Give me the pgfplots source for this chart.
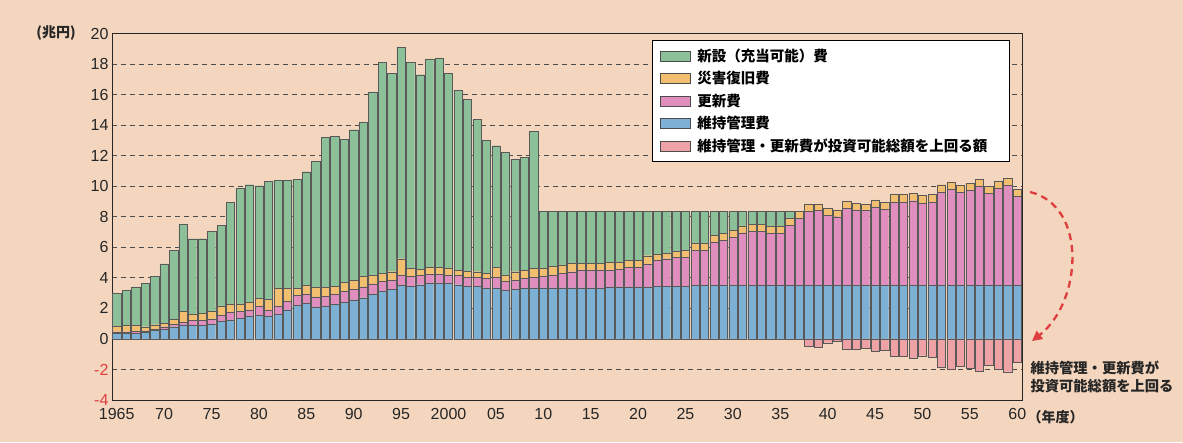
\documentclass[border=0pt]{standalone}
\usepackage{fontspec}
\setmainfont{Liberation Sans}
\newfontfamily\cjk{Noto Sans CJK JP}
\usepackage{pgfplots}
\pgfplotsset{compat=1.18}
\usepackage{pgfplotstable}
\usetikzlibrary{arrows.meta}

\definecolor{bg}{RGB}{244,214,190}
\definecolor{cgreen}{RGB}{140,192,152}
\definecolor{corange}{RGB}{242,190,112}
\definecolor{cpink}{RGB}{224,142,190}
\definecolor{cblue}{RGB}{124,177,213}
\definecolor{cneg}{RGB}{238,162,166}
\definecolor{cred}{RGB}{222,62,62}

\pgfplotstableread{
year B P O G N
1965 0.35 0.12 0.38 2.15 0
1966 0.35 0.12 0.43 2.30 0
1967 0.38 0.10 0.42 2.50 0
1968 0.42 0.10 0.28 2.85 0
1969 0.55 0.08 0.30 3.17 0
1970 0.63 0.17 0.23 3.89 0
1971 0.80 0.16 0.33 4.51 0
1972 0.92 0.15 0.72 5.73 0
1973 0.87 0.33 0.44 4.92 0
1974 0.87 0.33 0.48 4.88 0
1975 0.96 0.35 0.48 5.25 0
1976 1.14 0.39 0.63 5.27 0
1977 1.25 0.48 0.57 6.64 0
1978 1.36 0.43 0.51 7.58 0
1979 1.46 0.44 0.50 7.70 0
1980 1.55 0.57 0.55 7.36 0
1981 1.50 0.40 0.70 7.70 0
1982 1.60 0.55 1.20 7.03 0
1983 1.90 0.55 0.85 7.10 0
1984 2.20 0.65 0.50 7.12 0
1985 2.35 0.55 0.60 7.45 0
1986 2.10 0.65 0.65 8.25 0
1987 2.15 0.65 0.60 9.78 0
1988 2.25 0.70 0.50 9.83 0
1989 2.40 0.70 0.60 9.38 0
1990 2.55 0.70 0.60 9.85 0
1991 2.70 0.70 0.70 10.08 0
1992 2.90 0.70 0.55 12.03 0
1993 3.15 0.60 0.55 13.80 0
1994 3.25 0.60 0.55 12.98 0
1995 3.50 0.65 1.10 13.85 0
1996 3.45 0.65 0.50 13.50 0
1997 3.55 0.60 0.40 12.75 0
1998 3.65 0.60 0.45 13.64 0
1999 3.65 0.60 0.45 13.70 0
2000 3.65 0.55 0.45 12.75 0
2001 3.55 0.60 0.35 11.80 0
2002 3.45 0.60 0.40 11.25 0
2003 3.45 0.60 0.35 9.96 0
2004 3.35 0.60 0.35 8.70 0
2005 3.35 0.70 0.65 7.95 0
2006 3.20 0.55 0.45 8.00 0
2007 3.25 0.60 0.55 7.35 0
2008 3.30 0.65 0.55 7.40 0
2009 3.35 0.70 0.55 9.00 0
2010 3.35 0.75 0.55 3.70 0
2011 3.35 0.85 0.55 3.60 0
2012 3.35 0.95 0.55 3.50 0
2013 3.35 1.05 0.55 3.40 0
2014 3.35 1.15 0.45 3.40 0
2015 3.35 1.15 0.45 3.40 0
2016 3.35 1.15 0.45 3.40 0
2017 3.40 1.10 0.50 3.35 0
2018 3.40 1.15 0.50 3.30 0
2019 3.40 1.30 0.45 3.20 0
2020 3.40 1.30 0.45 3.20 0
2021 3.40 1.50 0.55 2.90 0
2022 3.45 1.70 0.40 2.80 0
2023 3.45 1.80 0.35 2.75 0
2024 3.45 1.90 0.40 2.60 0
2025 3.45 1.90 0.45 2.55 0
2026 3.50 2.30 0.45 2.10 0
2027 3.50 2.30 0.45 2.10 0
2028 3.50 2.85 0.45 1.55 0
2029 3.50 2.95 0.45 1.45 0
2030 3.50 3.15 0.45 1.25 0
2031 3.50 3.45 0.45 0.95 0
2032 3.50 3.55 0.45 0.85 0
2033 3.50 3.55 0.45 0.85 0
2034 3.50 3.45 0.45 0.95 0
2035 3.50 3.45 0.45 0.95 0
2036 3.50 3.95 0.45 0.45 0
2037 3.50 4.40 0.45 0 0
2038 3.50 4.85 0.45 0 -0.50
2039 3.50 4.90 0.45 0 -0.55
2040 3.50 4.60 0.45 0 -0.25
2041 3.50 4.50 0.45 0 -0.15
2042 3.50 5.05 0.45 0 -0.70
2043 3.50 4.95 0.45 0 -0.65
2044 3.50 4.90 0.45 0 -0.60
2045 3.50 5.15 0.45 0 -0.80
2046 3.50 5.00 0.45 0 -0.75
2047 3.50 5.45 0.50 0 -1.15
2048 3.50 5.45 0.50 0 -1.15
2049 3.50 5.55 0.50 0 -1.25
2050 3.50 5.40 0.50 0 -1.10
2051 3.50 5.45 0.50 0 -1.20
2052 3.50 6.10 0.50 0 -1.85
2053 3.50 6.30 0.45 0 -2.00
2054 3.50 6.10 0.45 0 -1.80
2055 3.50 6.25 0.45 0 -1.90
2056 3.50 6.50 0.45 0 -2.10
2057 3.50 6.05 0.45 0 -1.75
2058 3.50 6.35 0.45 0 -2.00
2059 3.50 6.55 0.45 0 -2.15
2060 3.50 5.85 0.45 0 -1.50
}\data

\pgfplotsset{
  common/.style={
    at={(112pt,42pt)}, anchor=south west,
    scale only axis, width=910pt, height=366.5pt,
    xmin=1964.5, xmax=2060.5, ymin=-4, ymax=20,
    bar width=8.3pt,
  },
  barsty/.style={draw=black!65, line width=0.35pt},
}

\begin{document}
\begin{tikzpicture}[x=1pt,y=1pt]
\fill[bg] (0,0) rectangle (1183,442);
\begin{axis}[common,
  ybar stacked,
  axis line style={black!85, line width=0.8pt},
  xtick={1965,1970,...,2060},
  xticklabels={1965,70,75,80,85,90,95,2000,05,10,15,20,25,30,35,40,45,50,55,60},
  ytick={-4,-2,...,20},
  yticklabels={\textcolor{cred}{-4},\textcolor{cred}{-2},0,2,4,6,8,10,12,14,16,18,20},
  major tick length=0pt,
  /pgf/number format/assume math mode=true,
  tick label style={font=\fontsize{16}{16}\selectfont, black!85},
  xticklabel style={yshift=-5pt},
  yticklabel style={xshift=0pt},
  ymajorgrids,
  grid style={black!70, line width=0.7pt, dash pattern=on 5pt off 4pt},
  legend image code/.code={\draw[#1, line width=0.4pt] (0pt,-5pt) rectangle (30pt,5pt);},
  legend style={at={(0.593,0.982)}, anchor=north west, draw=black, fill=white,
    line width=0.8pt, font=\cjk\bfseries\fontsize{14.5}{16}\selectfont,
    row sep=4.5pt, inner xsep=8pt, inner ysep=6.5pt, cells={anchor=west},
    /tikz/every odd column/.append style={column sep=5pt}},
]
\addlegendimage{fill=cgreen, draw=black!70}
\addlegendimage{fill=corange, draw=black!70}
\addlegendimage{fill=cpink, draw=black!70}
\addlegendimage{fill=cblue, draw=black!70}
\addlegendimage{fill=cneg, draw=black!70}
\addplot[barsty, fill=cblue, forget plot] table[x=year, y=B] {\data};
\addplot[barsty, fill=cpink, forget plot] table[x=year, y=P] {\data};
\addplot[barsty, fill=corange, forget plot] table[x=year, y=O] {\data};
\addplot[barsty, fill=cgreen, forget plot] table[x=year, y=G] {\data};
\legend{新設（充当可能）費, 災害復旧費, 更新費, 維持管理費, 維持管理・更新費が投資可能総額を上回る額\rule{12pt}{0pt}}
\end{axis}
\begin{axis}[common, ybar, hide axis]
\addplot[barsty, fill=cneg] table[x=year, y=N] {\data};
\end{axis}
\node[anchor=center, font=\cjk\bfseries\fontsize{14}{14}\selectfont, black!85] at (56,409) {(兆円)};
\node[anchor=west, font=\cjk\bfseries\fontsize{14}{14}\selectfont, black!85] at (1024,25) {（年度）};
\node[anchor=west, align=left, font=\cjk\bfseries\fontsize{14.3}{18}\selectfont, black!85] at (1027,65) {維持管理・更新費が\\投資可能総額を上回る};
\draw[cred, line width=2.3pt, dash pattern=on 7pt off 5pt, -{Triangle[length=10pt,width=10pt]}]
  (1030,250) .. controls (1088,236) and (1082,140) .. (1032,101);
\end{tikzpicture}
\end{document}
